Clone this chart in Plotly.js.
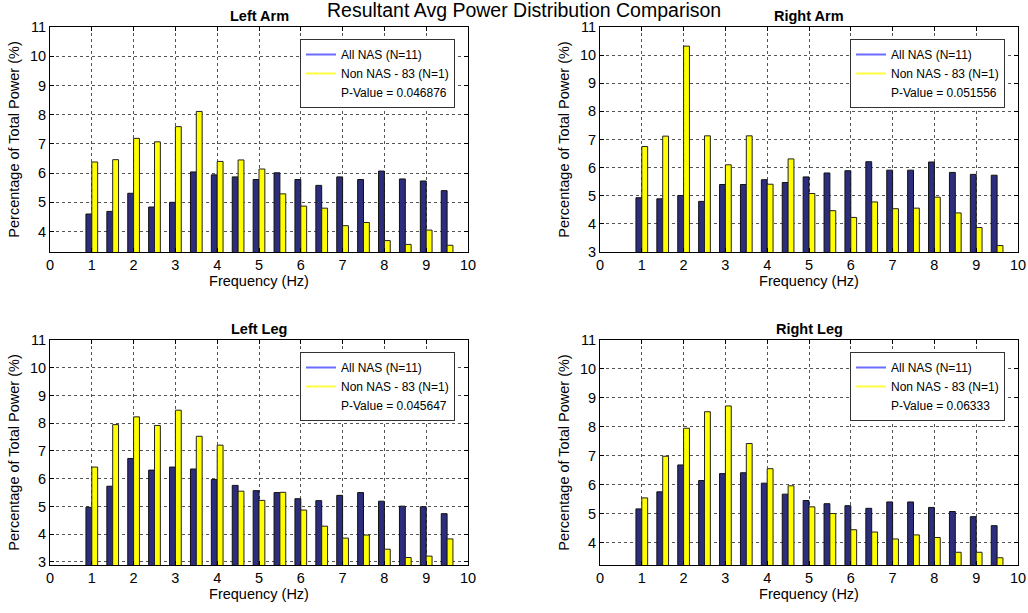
<!DOCTYPE html>
<html>
<head>
<meta charset="utf-8">
<script src="https://cdn.plot.ly/plotly-3.0.1.min.js"></script>
<style>html,body{margin:0;padding:0;background:#fff}#chart{width:1028px;height:613px}</style>
</head>
<body>
<div id="chart"></div>
<script>
// ---- Data ----
const freq = [1, 1.5, 2, 2.5, 3, 3.5, 4, 4.5, 5, 5.5, 6, 6.5, 7, 7.5, 8, 8.5, 9, 9.5];
const panelTitles = ['Left Arm', 'Right Arm', 'Left Leg', 'Right Leg'];
const seriesNames = ['All NAS (N=11)', 'Non NAS - 83 (N=1)'];
const pValues = ['0.046876', '0.051556', '0.045647', '0.06333'];

const leftArmNAS  = [4.60, 4.69, 5.31, 4.84, 5.00, 6.04, 5.94, 5.87, 5.78, 6.01, 5.78, 5.58, 5.87, 5.78, 6.07, 5.80, 5.73, 5.40];
const leftArmNon  = [6.38, 6.46, 7.19, 7.07, 7.59, 8.11, 6.40, 6.45, 6.14, 5.29, 4.87, 4.80, 4.20, 4.31, 3.69, 3.56, 4.05, 3.53];
const rightArmNAS = [4.93, 4.89, 5.01, 4.80, 5.40, 5.40, 5.57, 5.47, 5.67, 5.81, 5.89, 6.21, 5.91, 5.91, 6.20, 5.83, 5.76, 5.73];
const rightArmNon = [6.75, 7.12, 10.32, 7.13, 6.10, 7.13, 5.41, 6.31, 5.08, 4.47, 4.23, 4.78, 4.54, 4.56, 4.95, 4.39, 3.87, 3.23];
const leftLegNAS  = [4.97, 5.73, 6.73, 6.31, 6.42, 6.35, 5.97, 5.76, 5.57, 5.50, 5.28, 5.21, 5.40, 5.50, 5.19, 5.01, 4.99, 4.74];
const leftLegNon  = [6.42, 7.95, 8.23, 7.92, 8.47, 7.53, 7.21, 5.55, 5.22, 5.51, 4.87, 4.29, 3.86, 3.97, 3.46, 3.16, 3.21, 3.83];
const rightLegNAS = [5.16, 5.75, 6.68, 6.14, 6.38, 6.41, 6.05, 5.67, 5.45, 5.34, 5.27, 5.18, 5.40, 5.40, 5.21, 5.07, 4.89, 4.58];
const rightLegNon = [5.54, 6.98, 7.95, 8.52, 8.72, 7.42, 6.55, 5.96, 5.23, 5.00, 4.44, 4.36, 4.12, 4.26, 4.17, 3.66, 3.66, 3.47];

const nasSeries = [leftArmNAS, rightArmNAS, leftLegNAS, rightLegNAS];
const nonSeries = [leftArmNon, rightArmNon, leftLegNon, rightLegNon];

// ---- Styling / layout ----
const W = 1028, H = 613;
const FONT = 'Liberation Sans, Arial, Helvetica, sans-serif';
const FS = 14.5;
const navy = '#2d2d7d', yellow = '#ffff00';
const plots = [
  {x0: 50, x1: 468, y0: 27, y1: 252, yr: [3.3, 11]},
  {x0: 600, x1: 1018, y0: 27, y1: 252, yr: [3, 11]},
  {x0: 50, x1: 468, y0: 340, y1: 565, yr: [2.89, 11]},
  {x0: 600, x1: 1018, y0: 340, y1: 565, yr: [3.22, 11]}
];

const traces = [];
const layout = {
  width: W, height: H,
  margin: {l: 0, r: 0, t: 0, b: 0},
  paper_bgcolor: '#fff', plot_bgcolor: '#fff',
  font: {family: FONT, size: FS, color: '#000'},
  barmode: 'group', bargap: 0.44, bargroupgap: 0,
  showlegend: true,
  annotations: [{
    text: 'Resultant Avg Power Distribution Comparison', xref: 'paper', yref: 'paper',
    x: 524 / W, y: 1 - 10 / H, xanchor: 'center', yanchor: 'middle', showarrow: false,
    font: {family: FONT, size: 19.5, color: '#000'}
  }]
};

plots.forEach((p, i) => {
  const n = i === 0 ? '' : String(i + 1);
  const xa = 'x' + n, ya = 'y' + n;
  const lg = i === 0 ? 'legend' : 'legend' + (i + 1);
  traces.push({type: 'bar', x: freq, y: nasSeries[i], xaxis: xa, yaxis: ya, showlegend: false,
    marker: {color: navy, line: {color: '#111', width: 1}}, name: seriesNames[0]});
  traces.push({type: 'bar', x: freq, y: nonSeries[i], xaxis: xa, yaxis: ya, showlegend: false,
    marker: {color: yellow, line: {color: '#222', width: 1}}, name: seriesNames[1]});
  // legend-only line entries
  traces.push({type: 'scatter', mode: 'lines', x: [null], y: [null], xaxis: xa, yaxis: ya,
    name: seriesNames[0], legend: lg, line: {color: '#6b6bff', width: 2}});
  traces.push({type: 'scatter', mode: 'lines', x: [null], y: [null], xaxis: xa, yaxis: ya,
    name: seriesNames[1], legend: lg, line: {color: '#ffff40', width: 2}});
  traces.push({type: 'scatter', mode: 'lines', x: [null], y: [null], xaxis: xa, yaxis: ya,
    name: 'P-Value = ' + pValues[i], legend: lg, line: {color: 'rgba(0,0,0,0)', width: 0}});

  const axCommon = {
    showline: true, linecolor: '#000', linewidth: 1, mirror: 'ticks',
    ticks: 'inside', ticklen: 4, tickcolor: '#000',
    showgrid: true, gridcolor: '#555', griddash: 'dot', gridwidth: 1,
    zeroline: false, tickfont: {family: FONT, size: FS, color: '#000'}
  };
  layout['xaxis' + n] = Object.assign({}, axCommon, {
    domain: [p.x0 / W, p.x1 / W], anchor: ya, range: [0, 10], dtick: 1, tick0: 0,
    title: {text: 'Frequency (Hz)', font: {family: FONT, size: FS}, standoff: 3}
  });
  layout['yaxis' + n] = Object.assign({}, axCommon, {
    domain: [1 - p.y1 / H, 1 - p.y0 / H], anchor: xa, range: p.yr, dtick: 1, tick0: 0,
    title: {text: 'Percentage of Total Power (%)', font: {family: FONT, size: FS}, standoff: 6}
  });
  layout[lg] = {
    x: (p.x1 - 13) / W, y: 1 - (p.y0 + 12) / H, xanchor: 'right', yanchor: 'top',
    bgcolor: '#fff', bordercolor: '#333', borderwidth: 1,
    font: {family: FONT, size: 12, color: '#000'}, tracegroupgap: 0,
    itemwidth: 30
  };
  layout.annotations.push({
    text: '<b>' + panelTitles[i] + '</b>', xref: 'paper', yref: 'paper',
    x: (p.x0 + p.x1) / 2 / W, y: 1 - (p.y0 - 11) / H, xanchor: 'center', yanchor: 'middle',
    showarrow: false, font: {family: FONT, size: FS, color: '#000'}
  });
});

Plotly.newPlot('chart', traces, layout, {displayModeBar: false, staticPlot: true});
</script>
</body>
</html>
